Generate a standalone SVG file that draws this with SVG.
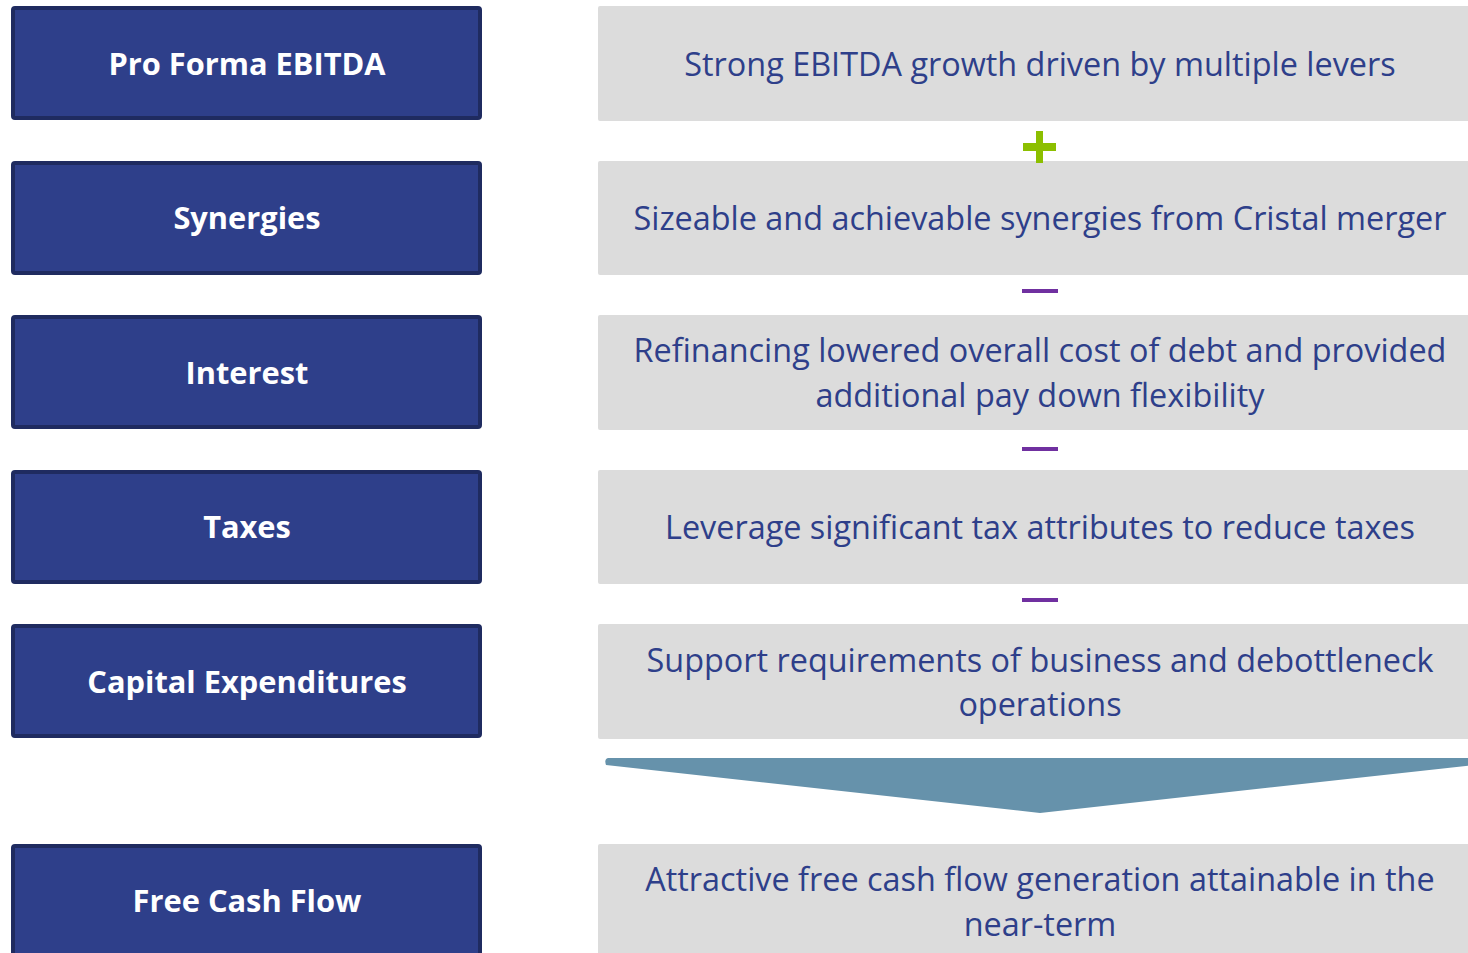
<svg xmlns="http://www.w3.org/2000/svg" width="1468" height="953" viewBox="0 0 1468 953">
<style>
.lb{fill:#2e3f8a;stroke:#1f2b60;stroke-width:4}
.rb{fill:#dcdcdc}
.lt{font-family:"Open Sans","DejaVu Sans",sans-serif;font-weight:bold;font-size:30.8px;fill:#ffffff;text-anchor:middle}
.rt{font-family:"Open Sans","DejaVu Sans",sans-serif;font-size:32.4px;fill:#2e3f8a;text-anchor:middle}
.minus{fill:#7030a0}
</style>
<rect width="1468" height="953" fill="#ffffff"/>
<g id="left-pro-forma"><rect class="lb" x="13" y="8" width="467" height="110" rx="2"/><text class="lt" x="247" y="75">Pro Forma EBITDA</text></g>
<g id="left-synergies"><rect class="lb" x="13" y="163" width="467" height="110" rx="2"/><text class="lt" x="247" y="229">Synergies</text></g>
<g id="left-interest"><rect class="lb" x="13" y="317" width="467" height="110" rx="2"/><text class="lt" x="247" y="384">Interest</text></g>
<g id="left-taxes"><rect class="lb" x="13" y="472" width="467" height="110" rx="2"/><text class="lt" x="247" y="538">Taxes</text></g>
<g id="left-capex"><rect class="lb" x="13" y="626" width="467" height="110" rx="2"/><text class="lt" x="247" y="693">Capital Expenditures</text></g>
<g id="left-fcf"><rect class="lb" x="13" y="846" width="467" height="115" rx="2"/><text class="lt" x="247" y="912">Free Cash Flow</text></g>

<g id="right-ebitda"><rect class="rb" x="598" y="6" width="872" height="115" rx="2"/><text class="rt" x="1040" y="76">Strong EBITDA growth driven by multiple levers</text></g>
<g id="right-synergies"><rect class="rb" x="598" y="161" width="872" height="114" rx="2"/><text class="rt" x="1040" y="230">Sizeable and achievable synergies from Cristal merger</text></g>
<g id="right-interest"><rect class="rb" x="598" y="315" width="872" height="115" rx="2"/><text class="rt" x="1040" y="362">Refinancing lowered overall cost of debt and provided</text><text class="rt" x="1040" y="407">additional pay down flexibility</text></g>
<g id="right-taxes"><rect class="rb" x="598" y="470" width="872" height="114" rx="2"/><text class="rt" x="1040" y="539">Leverage significant tax attributes to reduce taxes</text></g>
<g id="right-capex"><rect class="rb" x="598" y="624" width="872" height="115" rx="2"/><text class="rt" x="1040" y="672">Support requirements of business and debottleneck</text><text class="rt" x="1040" y="716">operations</text></g>
<g id="right-fcf"><rect class="rb" x="598" y="844" width="872" height="115" rx="2"/><text class="rt" x="1040" y="891">Attractive free cash flow generation attainable in the</text><text class="rt" x="1040" y="936">near-term</text></g>

<g id="connectors">
<path d="M1036 131h7v12h13v8h-13v12h-7v-12h-13v-8h13z" fill="#8cbf00"/>
<rect class="minus" x="1022" y="289" width="36" height="4"/>
<rect class="minus" x="1022" y="447" width="36" height="4"/>
<rect class="minus" x="1022" y="598" width="36" height="4"/>
<path d="M608 758 L1474 758 L1474 765 L1040 813 L606 765 Q604 759 608 758 Z" fill="#6692ab"/>
</g>
</svg>
